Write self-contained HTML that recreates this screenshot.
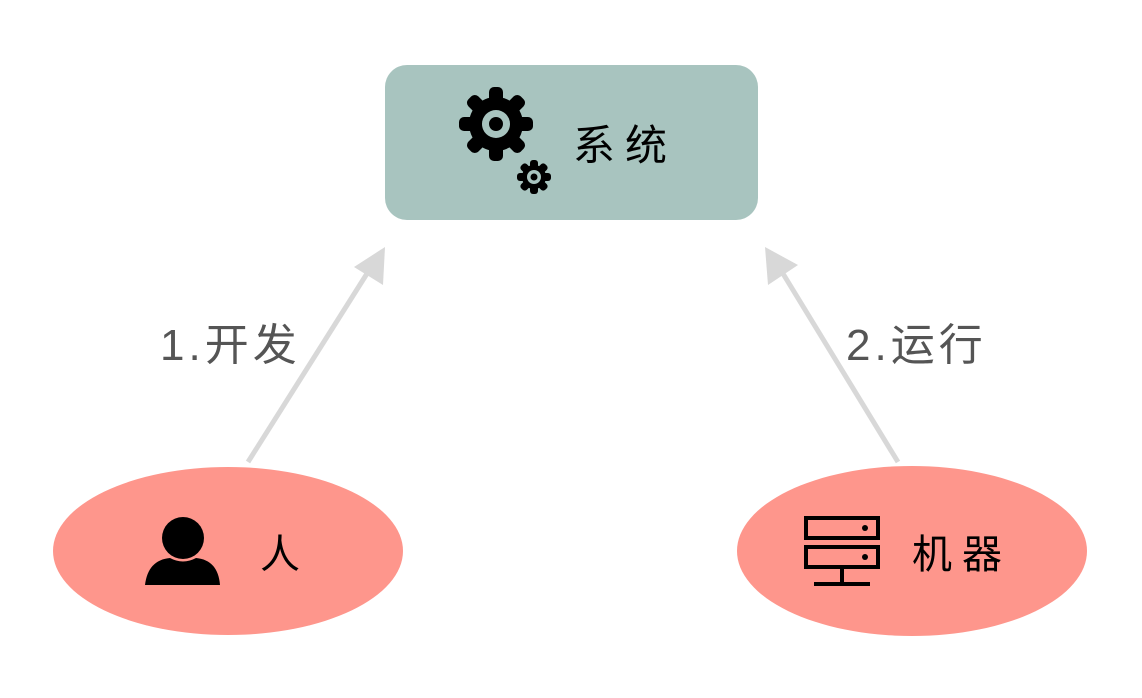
<!DOCTYPE html>
<html><head><meta charset="utf-8"><style>
html,body{margin:0;padding:0;background:#fff;}
body{width:1142px;height:698px;position:relative;overflow:hidden;font-family:"Liberation Sans","Noto Sans CJK SC",sans-serif;}
.t{position:absolute;white-space:nowrap;line-height:1;}
</style></head><body>
<svg width="1142" height="698" style="position:absolute;left:0;top:0">
<rect x="385" y="65" width="373" height="155" rx="22" fill="#a8c4bf"/>
<ellipse cx="228" cy="551" rx="175" ry="84" fill="#fe968c"/>
<ellipse cx="912" cy="551" rx="175" ry="85" fill="#fe968c"/>
<line x1="248" y1="462" x2="368" y2="272" stroke="#d8d8d8" stroke-width="5"/>
<polygon points="385,247 354,267 383,285" fill="#d8d8d8"/>
<line x1="898" y1="462" x2="782" y2="272" stroke="#d8d8d8" stroke-width="5"/>
<polygon points="765,247 798,265 768,285" fill="#d8d8d8"/>
<g transform="translate(496,124)" fill="#000">
<rect x="-7" y="-37" width="14" height="74" rx="5"/>
<rect x="-7" y="-37" width="14" height="74" rx="5" transform="rotate(45)"/>
<rect x="-7" y="-37" width="14" height="74" rx="5" transform="rotate(90)"/>
<rect x="-7" y="-37" width="14" height="74" rx="5" transform="rotate(135)"/>
<circle r="27"/>
<circle r="14" fill="#a8c4bf"/>
<circle r="7"/>
</g>
<g transform="translate(534,177)" fill="#000">
<rect x="-4" y="-17" width="8" height="34" rx="3"/>
<rect x="-4" y="-17" width="8" height="34" rx="3" transform="rotate(45)"/>
<rect x="-4" y="-17" width="8" height="34" rx="3" transform="rotate(90)"/>
<rect x="-4" y="-17" width="8" height="34" rx="3" transform="rotate(135)"/>
<circle r="12"/>
<circle r="7" fill="#a8c4bf"/>
<circle r="3.5"/>
</g>
<circle cx="183" cy="538" r="21" fill="#000"/>
<path d="M145,585 Q148,560 170,558 Q183,565 196,558 Q218,560 220,585 Z" fill="#000"/>
<g fill="none" stroke="#000" stroke-width="4">
<rect x="806" y="518" width="72" height="20"/>
<rect x="806" y="547" width="72" height="20"/>
<line x1="842" y1="569" x2="842" y2="582"/>
<line x1="814" y1="584" x2="870" y2="584"/>
</g>
<circle cx="865" cy="528" r="3" fill="#000"/><circle cx="865" cy="557" r="3" fill="#000"/>
</svg>
<div class="t" style="left:573px;top:125px;font-size:42px;color:#000;letter-spacing:10px">系统</div>
<div class="t" style="left:260px;top:535px;font-size:40px;color:#000">人</div>
<div class="t" style="left:912px;top:535px;font-size:40px;color:#000;letter-spacing:10px">机器</div>
<div class="t" style="left:160px;top:324px;font-size:44px;color:#555;letter-spacing:4px">1.开发</div>
<div class="t" style="left:846px;top:324px;font-size:44px;color:#555;letter-spacing:4px">2.运行</div>
</body></html>
